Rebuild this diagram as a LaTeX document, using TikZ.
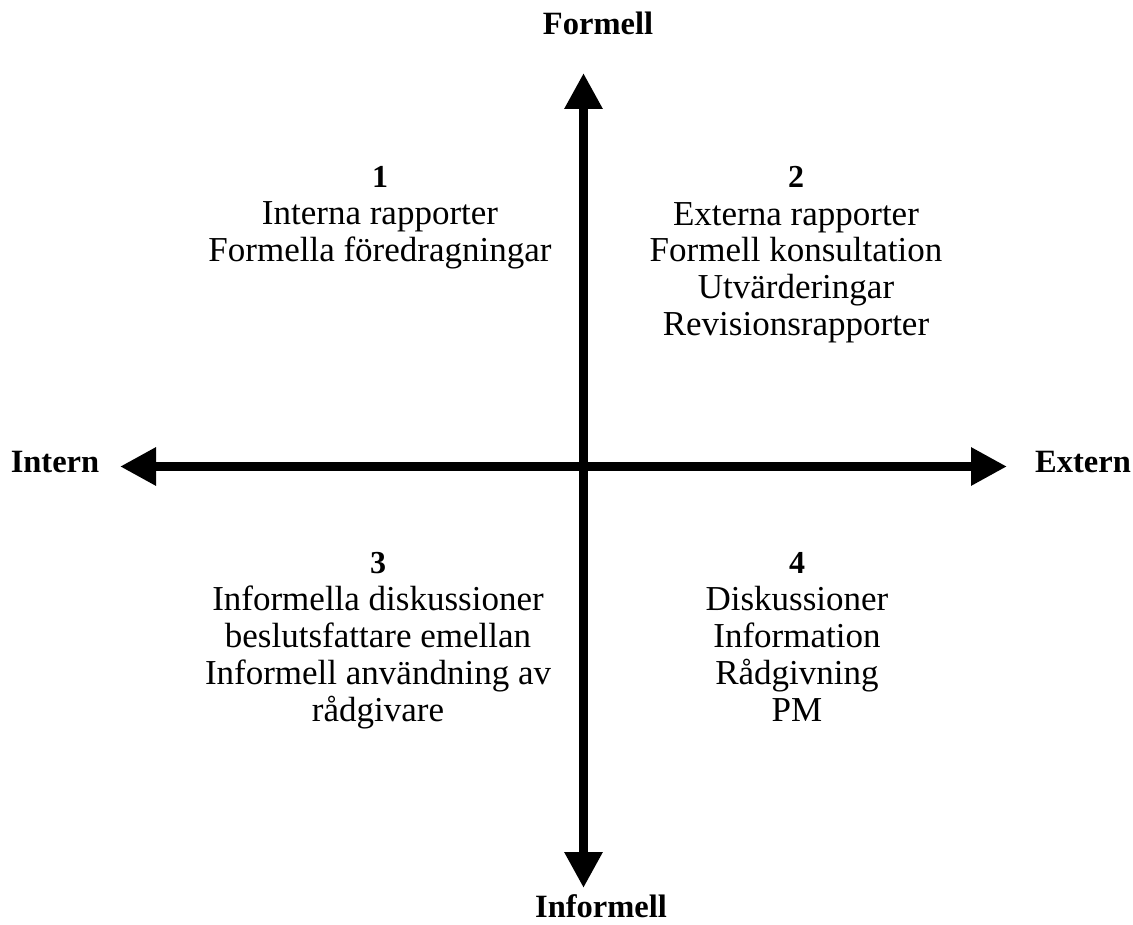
\documentclass[tikz,border=0pt]{standalone}
\usepackage{fontspec}
\setmainfont{Liberation Serif}
\usetikzlibrary{arrows.meta}
\tikzset{
  axis/.style={line width=9pt,
    {Triangle[length=36pt,width=36pt]}-{Triangle[length=36pt,width=36pt]}},
  % multi-line nodes are placed by the baseline of their last line
  quad/.style={anchor=base, align=center, inner sep=0pt,
    font=\fontsize{35}{37}\selectfont},
  pole/.style={anchor=base, inner sep=0pt,
    font=\fontsize{32.5}{37}\selectfont\bfseries},
}
\newcommand{\qnum}[1]{{\fontsize{32}{37}\selectfont\bfseries #1}}
\begin{document}
\begin{tikzpicture}[x=1pt,y=-1pt]
  \useasboundingbox (0,0) rectangle (1133,925);
  % axis end points
  \coordinate (top) at (583.5,73);
  \coordinate (bottom) at (583.5,888);
  \coordinate (left) at (120,466.5);
  \coordinate (right) at (1007,466.5);
  \draw[axis] (bottom) -- (top);
  \draw[axis] (left) -- (right);
  % axis labels
  \node[pole] (formell) at (598,35) {Formell};
  \node[pole] (informell) at (601,917) {Informell};
  \node[pole] (intern) at (55,472) {Intern};
  \node[pole] (extern) at (1083,472) {Extern};
  % quadrants
  \node[quad] (q1) at (380,262) {\qnum{1}\\Interna rapporter\\Formella föredragningar};
  \node[quad] (q2) at (796,336) {\qnum{2}\\Externa rapporter\\Formell konsultation\\Utvärderingar\\Revisionsrapporter};
  \node[quad] (q3) at (378,721) {\qnum{3}\\Informella diskussioner\\beslutsfattare emellan\\Informell användning av\\rådgivare};
  \node[quad] (q4) at (797,721) {\qnum{4}\\Diskussioner\\Information\\Rådgivning\\PM};
\end{tikzpicture}
\end{document}
